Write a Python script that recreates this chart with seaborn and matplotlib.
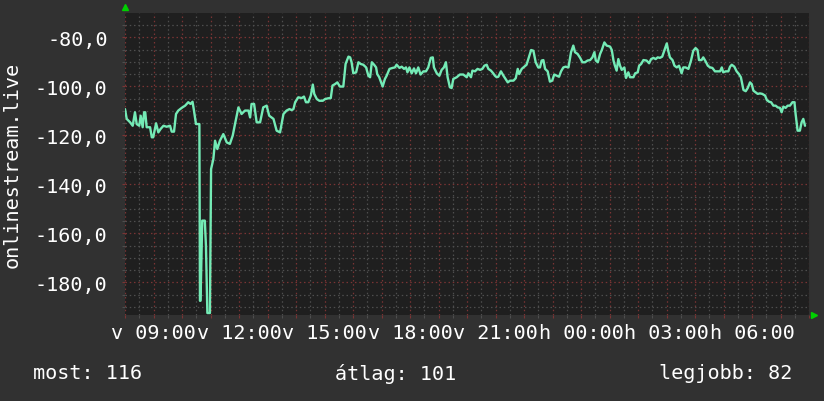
import numpy as np
import pandas as pd
import matplotlib
matplotlib.use("Agg")
import matplotlib.pyplot as plt
import seaborn as sns
from matplotlib.ticker import MultipleLocator, FixedLocator, FuncFormatter

# hours since Sunday 08:00 and the value
hours = [0.00, 0.06, 0.18, 0.27, 0.35, 0.41, 0.50, 0.55, 0.62, 0.67, 0.71, 0.76, 0.88, 0.94, 0.99,
         1.09, 1.17, 1.25, 1.35, 1.46, 1.58, 1.64, 1.72, 1.79, 1.87, 1.99, 2.11, 2.22, 2.30, 2.37,
         2.42, 2.49, 2.61, 2.63, 2.65, 2.71, 2.80, 2.84, 2.89, 2.98, 3.02, 3.10, 3.16, 3.24, 3.33,
         3.45, 3.57, 3.68, 3.78, 3.86, 3.98, 4.09, 4.21, 4.33, 4.39, 4.44, 4.53, 4.62, 4.74, 4.85,
         4.97, 5.06, 5.21, 5.32, 5.44, 5.56, 5.67, 5.77, 5.85, 5.91, 5.97, 6.08, 6.20, 6.28, 6.35,
         6.43, 6.52, 6.59, 6.64, 6.73, 6.82, 6.94, 7.02, 7.13, 7.22, 7.28, 7.37, 7.45, 7.54, 7.66,
         7.74, 7.84, 7.90, 7.95, 8.01, 8.11, 8.19, 8.27, 8.36, 8.46, 8.54, 8.60, 8.66, 8.74, 8.81,
         8.85, 8.92, 9.04, 9.12, 9.18, 9.28, 9.39, 9.47, 9.53, 9.63, 9.71, 9.79, 9.86, 9.91, 9.98,
         10.06, 10.14, 10.21, 10.29, 10.37, 10.47, 10.56, 10.64, 10.73, 10.80, 10.84, 10.94, 11.03, 11.11, 11.19,
         11.26, 11.32, 11.40, 11.46, 11.52, 11.64, 11.75, 11.87, 11.99, 12.05, 12.14, 12.19, 12.28, 12.37, 12.46,
         12.54, 12.61, 12.69, 12.75, 12.84, 12.92, 12.98, 13.04, 13.10, 13.19, 13.28, 13.33, 13.43, 13.51, 13.63,
         13.71, 13.78, 13.83, 13.92, 14.01, 14.09, 14.18, 14.25, 14.33, 14.41, 14.50, 14.56, 14.62, 14.68, 14.74,
         14.83, 14.91, 14.99, 15.06, 15.15, 15.23, 15.30, 15.38, 15.46, 15.56, 15.65, 15.73, 15.79, 15.88, 15.97,
         16.05, 16.14, 16.23, 16.32, 16.40, 16.47, 16.52, 16.59, 16.67, 16.73, 16.82, 16.90, 17.02, 17.08, 17.14,
         17.19, 17.25, 17.31, 17.37, 17.43, 17.52, 17.58, 17.66, 17.72, 17.84, 17.90, 17.99, 18.04, 18.11, 18.19,
         18.30, 18.39, 18.46, 18.54, 18.62, 18.69, 18.77, 18.85, 18.92, 19.01, 19.06, 19.12, 19.21, 19.28, 19.36,
         19.44, 19.53, 19.59, 19.67, 19.77, 19.86, 19.94, 20.02, 20.09, 20.14, 20.23, 20.29, 20.37, 20.45, 20.53,
         20.61, 20.70, 20.80, 20.88, 20.94, 20.99, 21.08, 21.17, 21.23, 21.29, 21.38, 21.46, 21.54, 21.61, 21.70,
         21.78, 21.85, 21.93, 21.99, 22.05, 22.13, 22.20, 22.28, 22.36, 22.46, 22.52, 22.60, 22.67, 22.75, 22.83,
         22.90, 22.98, 23.04, 23.10, 23.18, 23.25, 23.33, 23.42, 23.49, 23.53, 23.60, 23.68, 23.74, 23.80, 23.86]
values = [-109.3, -113.3, -114.7, -116.1, -110.6, -115.4, -116.1, -112.0, -116.7, -110.6, -110.6, -116.7, -116.7, -120.8, -120.8,
          -115.1, -118.8, -117.4, -116.1, -116.5, -116.1, -118.5, -118.5, -111.3, -109.9, -108.8, -107.9, -106.5, -107.2, -106.3,
          -109.9, -115.4, -115.4, -187.5, -187.5, -154.8, -154.8, -165.0, -192.5, -192.5, -133.8, -129.7, -122.2, -125.6, -122.2,
          -119.5, -122.9, -123.5, -120.1, -115.4, -108.6, -111.3, -109.9, -109.9, -112.7, -107.2, -107.2, -114.7, -114.7, -108.6,
          -107.9, -112.0, -113.3, -118.1, -118.8, -111.3, -109.9, -109.3, -109.7, -109.3, -106.5, -104.5, -104.8, -104.2, -106.5,
          -106.5, -103.8, -99.3, -103.1, -105.2, -105.9, -105.9, -105.2, -104.9, -104.8, -99.7, -99.1, -98.4, -100.1, -100.1,
          -90.9, -87.9, -88.2, -90.2, -94.7, -94.3, -90.2, -90.9, -91.2, -92.3, -95.7, -96.3, -90.2, -91.2, -92.3,
          -95.0, -96.3, -100.1, -97.0, -95.7, -92.9, -92.5, -92.3, -91.2, -92.5, -92.0, -92.9, -92.3, -94.3, -92.3,
          -94.7, -92.7, -94.7, -92.3, -95.2, -93.9, -93.9, -92.3, -88.4, -88.2, -92.3, -94.7, -95.7, -93.3, -92.3,
          -90.2, -96.3, -100.4, -100.7, -97.0, -96.3, -95.2, -95.2, -96.3, -94.7, -96.3, -93.6, -93.9, -92.9, -93.3,
          -92.9, -91.6, -91.2, -92.9, -93.6, -94.7, -95.7, -96.3, -96.1, -93.9, -95.7, -96.6, -98.4, -97.7, -97.7,
          -96.7, -92.9, -95.0, -92.9, -92.0, -91.2, -87.9, -85.2, -85.5, -90.2, -92.3, -92.3, -89.5, -89.3, -92.9,
          -93.9, -98.1, -97.7, -95.2, -95.7, -96.1, -93.9, -92.3, -92.0, -92.3, -86.1, -83.4, -86.1, -86.8, -88.4,
          -90.2, -90.2, -89.5, -89.3, -88.2, -86.1, -89.5, -90.2, -86.8, -85.2, -82.1, -83.4, -83.8, -85.2, -89.5,
          -91.6, -93.6, -88.9, -91.6, -93.3, -92.3, -96.6, -94.3, -96.3, -96.3, -94.7, -94.3, -91.6, -90.9, -89.3,
          -89.5, -90.6, -88.9, -88.4, -88.9, -88.2, -88.4, -87.9, -85.5, -82.5, -85.5, -88.2, -89.3, -91.6, -92.3,
          -91.6, -94.7, -92.3, -92.3, -92.9, -89.5, -85.5, -84.4, -85.2, -89.3, -89.3, -88.2, -89.8, -91.6, -92.3,
          -92.5, -93.9, -93.9, -93.9, -92.3, -94.3, -93.9, -93.9, -92.0, -91.2, -92.0, -93.9, -95.0, -96.3, -101.5,
          -102.0, -100.7, -98.4, -99.1, -101.8, -102.5, -103.1, -102.9, -103.1, -103.8, -105.6, -106.3, -106.5, -107.9, -107.9,
          -108.6, -108.8, -110.6, -108.3, -108.8, -107.9, -107.9, -106.5, -106.5, -111.3, -118.1, -118.1, -114.7, -113.3, -116.1]

tick_hours = [1, 4, 7, 10, 13, 16, 19, 22]
tick_labels = ["v 09:00", "v 12:00", "v 15:00", "v 18:00", "v 21:00", "h 00:00", "h 03:00", "h 06:00"]
y_ticks = [-80, -100, -120, -140, -160, -180]
series_name = "onlinestream.live"
stats = ["most: 116", "átlag: 101", "legjobb: 82"]

df = pd.DataFrame({"hour": hours, "value": values})

sns.set_theme(style="dark")
plt.rcParams["font.family"] = ["DejaVu Sans Mono"]

BG = "#313131"
PLOT_BG = "#1f1f1f"
LINE = "#74ebb6"
MAJOR = "#7a3434"
MINOR = "#4e4e4e"
TXT = "#ffffff"

fig = plt.figure(figsize=(8.24, 4.02), dpi=100, facecolor=BG)
ax = fig.add_axes([125 / 824, 86 / 402, 684 / 824, 302 / 402])
ax.set_facecolor(PLOT_BG)

sns.lineplot(data=df, x="hour", y="value", ax=ax, color=LINE, linewidth=1.7, sort=False, zorder=3)

ax.set_xlim(0, 24)
ax.set_ylim(-193.3, -70.1)

# grids: hourly / 20-unit in red, half-hour / 5-unit in grey
ax.xaxis.set_major_locator(MultipleLocator(1))
ax.xaxis.set_minor_locator(MultipleLocator(0.5))
ax.yaxis.set_major_locator(FixedLocator(y_ticks))
ax.yaxis.set_minor_locator(MultipleLocator(5))

lab = dict(zip(tick_hours, tick_labels))
ax.xaxis.set_major_formatter(FuncFormatter(lambda v, p: lab.get(int(round(v)), "") if abs(v - round(v)) < 1e-6 else ""))
ax.yaxis.set_major_formatter(FuncFormatter(lambda v, p: f"{v:.1f}".replace(".", ",")))

ax.grid(True, which="major", color=MAJOR, linestyle=(0, (1.2, 2.2)), linewidth=0.9)
ax.grid(True, which="minor", color=MINOR, linestyle=(0, (1.2, 2.2)), linewidth=0.9)
ax.set_axisbelow(True)

ax.tick_params(axis="x", which="major", colors=MAJOR, length=2.5, width=0.8, pad=3, labelcolor=TXT, labelsize=14.5)
ax.tick_params(axis="x", which="minor", colors=MINOR, length=2.5, width=0.8)
ax.tick_params(axis="y", which="major", colors=MAJOR, length=2.5, width=0.8, pad=10, labelcolor=TXT, labelsize=14.5)
ax.tick_params(axis="y", which="minor", colors=MINOR, length=2.5, width=0.8)
ax.tick_params(bottom=True, left=True, which="both")

for s in ax.spines.values():
    s.set_visible(False)
ax.set_xlabel("")
ax.set_ylabel("")

# rrd style arrows at the axis ends
ax.plot([0], [1.02], marker="^", color="#00d000", markersize=4, transform=ax.transAxes, clip_on=False)
ax.plot([1.007], [0], marker=">", color="#00d000", markersize=4, transform=ax.transAxes, clip_on=False)

fig.text(12 / 824, 1 - 165 / 402, series_name, rotation=90, color=TXT, fontsize=14.5, ha="center", va="center")
fig.text(33 / 824, 1 - 374 / 402, stats[0], color=TXT, fontsize=14.5, ha="left", va="center")
fig.text(335 / 824, 1 - 374 / 402, stats[1], color=TXT, fontsize=14.5, ha="left", va="center")
fig.text(792 / 824, 1 - 374 / 402, stats[2], color=TXT, fontsize=14.5, ha="right", va="center")

fig.savefig("out.png", dpi=100, facecolor=BG)
